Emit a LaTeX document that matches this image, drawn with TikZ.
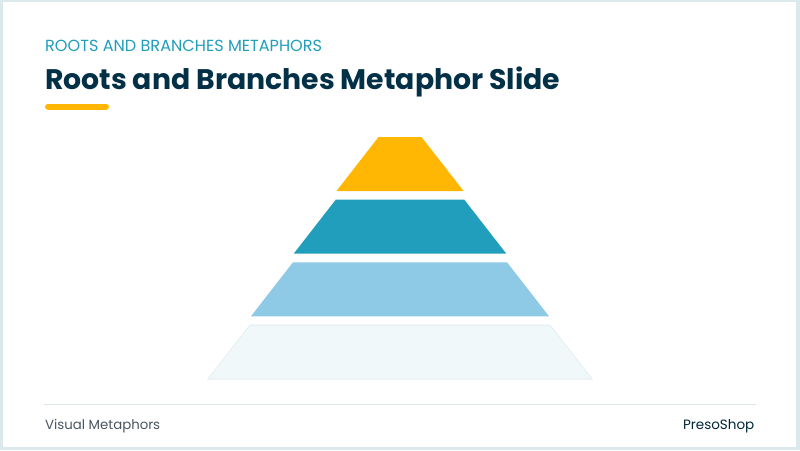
\documentclass[tikz,border=0pt]{standalone}
\usepackage{fontspec}
\setmainfont{Poppins}
\definecolor{frame}{HTML}{DCE9EC}
\definecolor{navy}{HTML}{023047}
\definecolor{teal}{HTML}{219EBC}
\definecolor{sky}{HTML}{8ECAE6}
\definecolor{amber}{HTML}{FFB703}
\definecolor{mist}{HTML}{F1F8FA}
\definecolor{mistline}{HTML}{E3EEF2}
\definecolor{rule}{HTML}{DCE4E8}
\definecolor{greytext}{HTML}{4A5660}
\begin{document}
\begin{tikzpicture}[x=1pt,y=-1pt, txt/.style={inner sep=0pt, anchor=base west}]
\useasboundingbox (0,0) rectangle (800,450);
\fill[frame] (0,0) rectangle (800,450);
\fill[white] (3,2) rectangle (796,447);
\node[txt, text=teal, font=\fontsize{16.1}{16}\selectfont] (kicker) at (45,51.7){ROOTS AND BRANCHES METAPHORS};
\node[txt, text=navy, font=\fontsize{28.3}{30}\selectfont\bfseries] (title) at (45,89.3){Roots and Branches Metaphor Slide};
\draw[amber, line width=6pt, line cap=round] (48,106.5) -- (106,106.5);
\foreach \k/\col in {0/amber,1/teal,2/sky}{
  \pgfmathsetmacro\yt{137+62.7*\k}
  \pgfmathsetmacro\yb{\yt+54}
  \pgfmathsetmacro\ht{21.5+42.8*\k}
  \pgfmathsetmacro\hb{63.5+42.8*\k}
  \fill[\col] ({400-\ht},\yt) -- ({400+\ht},\yt) -- ({400+\hb},\yb) -- ({400-\hb},\yb) -- cycle;
}
\filldraw[fill=mist, draw=mistline, line width=0.8pt] (249.9,325.1) -- (550.1,325.1) -- (592.1,379.1) -- (207.9,379.1) -- cycle;
\draw[rule, line width=1.5pt] (44,404.3) -- (756,404.3);
\node[txt, text=greytext, font=\fontsize{13.3}{14}\selectfont] (foot0) at (45,429.3){Visual Metaphors};
\node[txt, anchor=base east, text=navy!80!black, font=\fontsize{13.5}{14}\selectfont] (foot1) at (754.5,429.3){PresoShop};
\end{tikzpicture}
\end{document}
